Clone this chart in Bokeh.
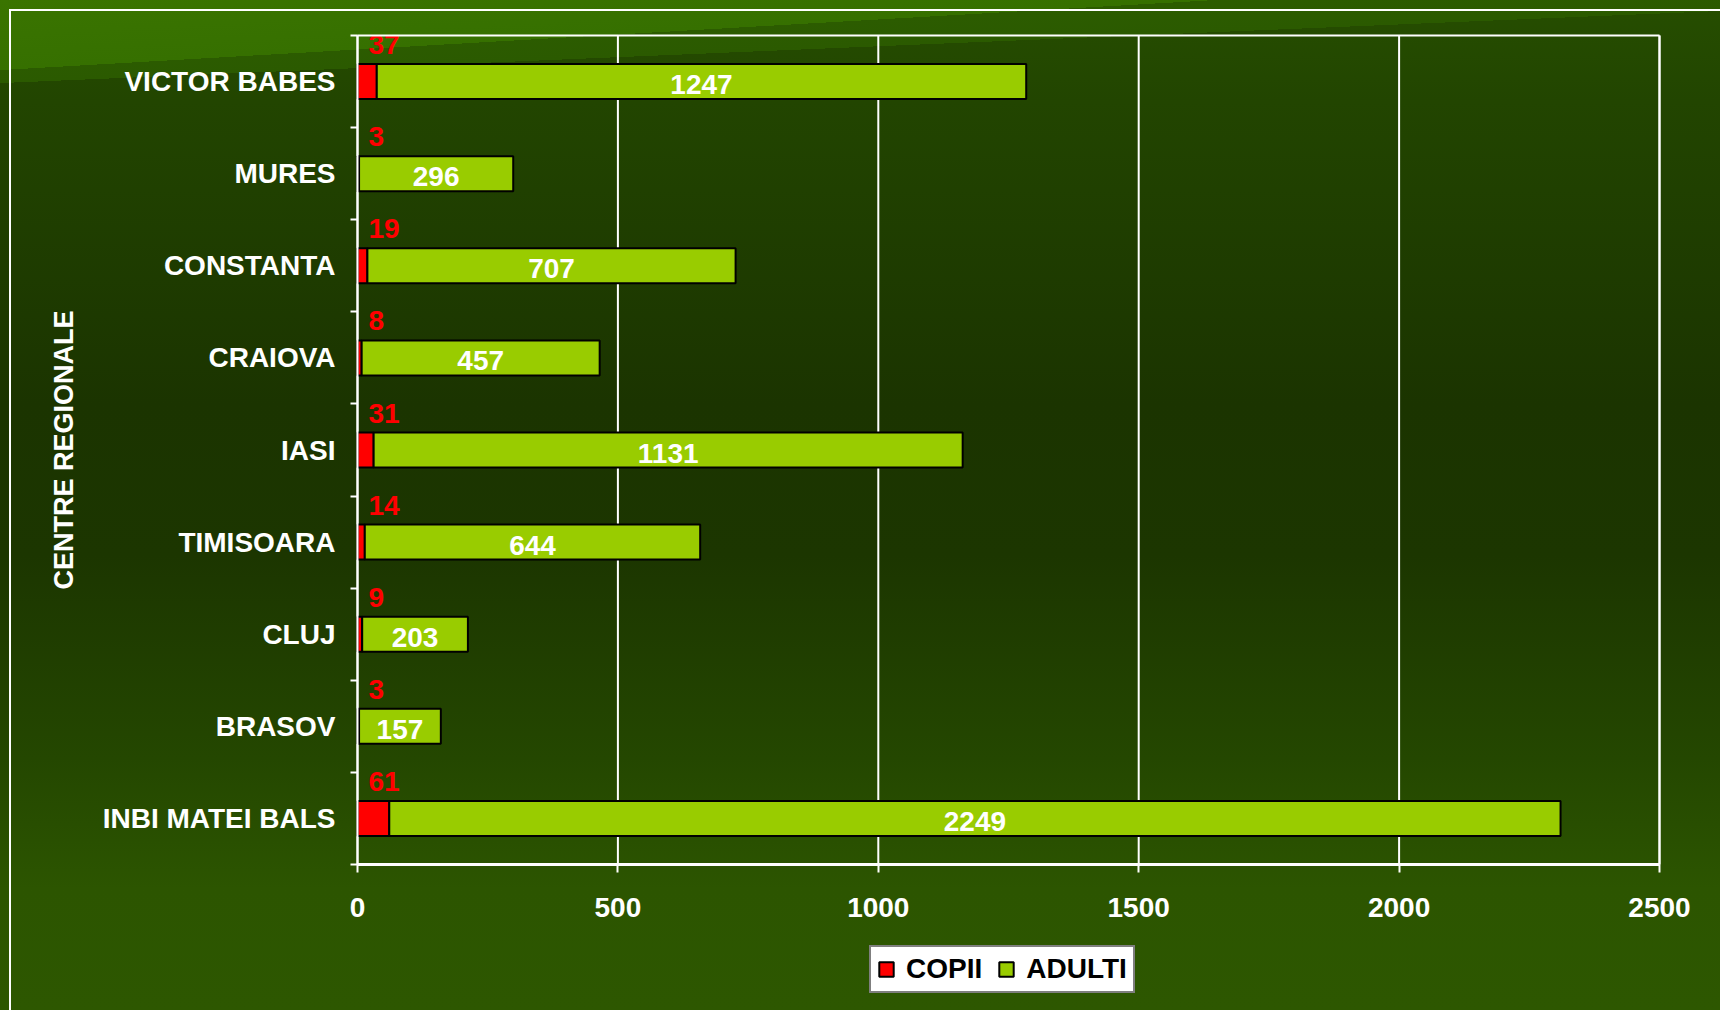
import math
from bokeh.plotting import figure
from bokeh.models import (ColumnDataSource, FixedTicker, Legend, LegendItem, Range1d,
                          LinearAxis, Label)
from bokeh.core.properties import value
from bokeh.embed import file_html
from bokeh.resources import INLINE

# ---- data (top to bottom as in the chart) ----
centres = ["VICTOR BABES", "MURES", "CONSTANTA", "CRAIOVA", "IASI",
           "TIMISOARA", "CLUJ", "BRASOV", "INBI MATEI BALS"]
copii = [37, 3, 19, 8, 31, 14, 9, 3, 61]
adulti = [1247, 296, 707, 457, 1131, 644, 203, 157, 2249]
x_ticks = [0, 500, 1000, 1500, 2000, 2500]
series_names = ["COPII", "ADULTI"]
y_title = "CENTRE REGIONALE"

n = len(centres)
x_max = x_ticks[-1]
ypos = [n - 1 - i + 0.5 for i in range(n)]
ends = [c + a for c, a in zip(copii, adulti)]
mids = [c + a / 2 for c, a in zip(copii, adulti)]

src = ColumnDataSource(dict(
    y=ypos, copii=copii, adulti=adulti, ends=ends, mids=mids,
    zero=[0] * n,
    copii_txt=[str(v) for v in copii],
    adulti_txt=[str(v) for v in adulti],
))

FONT = "Liberation Sans"
W, H = 1720, 1010
# pixel geometry of the plot area inside the canvas
AX_L, AX_R, AX_T, AX_B = 357, 1659, 35, 864
ux = x_max / (AX_R - AX_L)          # data units per pixel (x)
uy = n / (AX_B - AX_T)              # data units per pixel (y)
x_rng = Range1d(-AX_L * ux, x_max + (W - AX_R) * ux)
y_rng = Range1d(-(H - AX_B) * uy, n + AX_T * uy)

p = figure(width=W, height=H, output_backend="svg", toolbar_location=None,
           x_range=x_rng, y_range=y_rng,
           min_border_left=0, min_border_right=0,
           min_border_top=0, min_border_bottom=0)

p.border_fill_color = None
p.background_fill_color = None
p.outline_line_color = None

# page-like background (gradient with diagonal band and frame line)
p.styles = {
    "background": (
        "linear-gradient(#ffffff,#ffffff) 9px 9px / 2px 100% no-repeat, "
        "linear-gradient(#ffffff,#ffffff) 9px 9px / 100% 2px no-repeat, "
        "linear-gradient(176.7deg, #3a7400 0px, #367000 70px, rgba(0,0,0,0) 70px), "
        "linear-gradient(177.6deg, #2e6000 0px, #2b5a00 83px, rgba(0,0,0,0) 83px), "
        "linear-gradient(180deg, #264e00 0%, #224500 10%, #1b3400 40%, #1c3600 55%, "
        "#244700 75%, #2c5500 88%, #2d5700 100%)"
    )
}

# vertical grid lines (limited to the category area)
p.segment(x0=x_ticks, y0=[0] * len(x_ticks), x1=x_ticks, y1=[n] * len(x_ticks),
          line_color="white", line_width=2)

bar_h = 0.38
r_c = p.hbar(y="y", left="zero", right="copii", height=bar_h, source=src,
             fill_color="#ff0000", line_color="black", line_width=2)
r_a = p.hbar(y="y", left="copii", right="ends", height=bar_h, source=src,
             fill_color="#99cc00", line_color="black", line_width=2)

# data labels
p.text(x="zero", y="y", text="copii_txt", source=src, x_offset=11, y_offset=-37,
       text_color="#ff0000", text_font=value(FONT), text_font_style="bold",
       text_font_size="28px", text_align="left", text_baseline="middle")
p.text(x="mids", y="y", text="adulti_txt", source=src, y_offset=3,
       text_color="white", text_font=value(FONT), text_font_style="bold",
       text_font_size="28px", text_align="center", text_baseline="middle")

# x axis, pinned at y = 0
xa = p.xaxis[0]
xa.fixed_location = 0
xa.bounds = (0, x_max)
xa.ticker = FixedTicker(ticks=x_ticks)
xa.axis_line_color = "white"
xa.axis_line_width = 3
xa.major_tick_line_color = "white"
xa.major_tick_line_width = 2
xa.major_tick_out = 8
xa.major_tick_in = 0
xa.minor_tick_line_color = None
xa.major_label_text_color = "white"
xa.major_label_text_font = FONT
xa.major_label_text_font_style = "bold"
xa.major_label_text_font_size = "28px"
xa.major_label_standoff = 25

# y axis pinned at x = 0: labels at centres, tick marks between categories
ya = p.yaxis[0]
ya.fixed_location = 0
ya.bounds = (0, n)
ya.ticker = FixedTicker(ticks=ypos, minor_ticks=list(range(n + 1)))
ya.major_label_overrides = {y: name for y, name in zip(ypos, centres)}
ya.axis_line_color = "white"
ya.axis_line_width = 2
ya.major_tick_line_color = None
ya.major_tick_out = 0
ya.major_tick_in = 0
ya.minor_tick_line_color = "white"
ya.minor_tick_line_width = 2
ya.minor_tick_out = 7
ya.minor_tick_in = 0
ya.major_label_text_color = "white"
ya.major_label_text_font = FONT
ya.major_label_text_font_style = "bold"
ya.major_label_text_font_size = "28px"
ya.major_label_standoff = 15

# y axis title
p.add_layout(Label(x=63, y=H - (AX_T + AX_B) / 2, x_units="screen", y_units="screen",
                   text=y_title, angle=math.pi / 2, text_align="center",
                   text_baseline="middle", text_color="white", text_font=FONT,
                   text_font_style="bold", text_font_size="27px"))

# plot-area border on top and right (plain axis lines)
top_ax = LinearAxis(ticker=FixedTicker(ticks=[]), fixed_location=n, bounds=(0, x_max),
                    axis_line_color="white", axis_line_width=2,
                    major_tick_line_color=None, minor_tick_line_color=None,
                    major_label_text_font_size="0px")
right_ax = LinearAxis(ticker=FixedTicker(ticks=[]), fixed_location=x_max, bounds=(0, n),
                      axis_line_color="white", axis_line_width=2,
                      major_tick_line_color=None, minor_tick_line_color=None,
                      major_label_text_font_size="0px")
p.add_layout(top_ax, "above")
p.add_layout(right_ax, "right")

p.xgrid.visible = False
p.ygrid.visible = False

legend = Legend(items=[LegendItem(label=series_names[0], renderers=[r_c]),
                       LegendItem(label=series_names[1], renderers=[r_a])],
                location=(869, 17), orientation="horizontal")
legend.background_fill_color = "white"
legend.background_fill_alpha = 1
legend.border_line_color = "black"
legend.border_line_width = 2
legend.label_text_font = FONT
legend.label_text_font_style = "bold"
legend.label_text_font_size = "28px"
legend.label_text_color = "black"
legend.glyph_width = 18
legend.glyph_height = 18
legend.label_height = 28
legend.label_standoff = 11
legend.spacing = 15
legend.padding = 6
legend.margin = 0
p.add_layout(legend, "center")

open("out.html", "w").write(file_html(p, INLINE))
